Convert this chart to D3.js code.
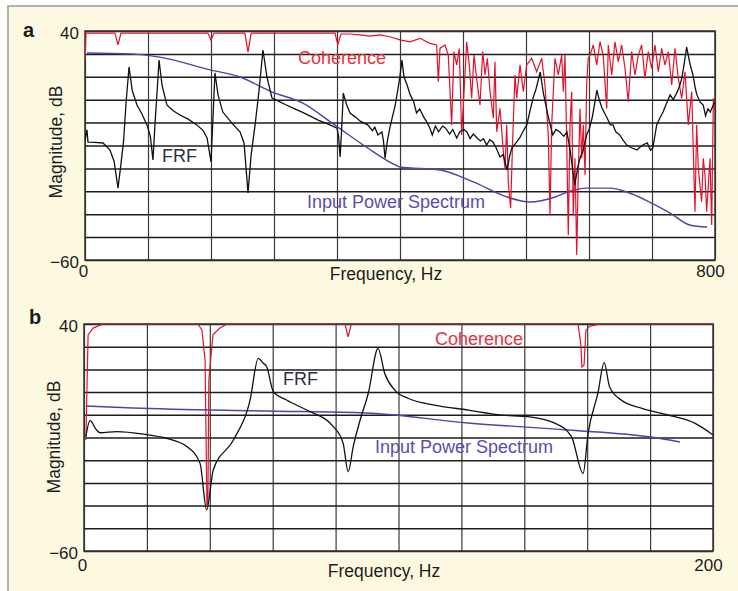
<!DOCTYPE html>
<html>
<head>
<meta charset="utf-8">
<script src="https://cdn.jsdelivr.net/npm/d3@7"></script>
<style>
body { margin: 0; background: #fff; }
svg text { font-family: "Liberation Sans", Arial, sans-serif; }
</style>
</head>
<body>
<div class="chart"></div>
<script>
// values: [frequency Hz, magnitude dB]
const yTicks = [40, -60];
const xTicksA = [0, 800];
const xTicksB = [0, 200];

const frfA = [[0,-7.6],[2.5,-3.2],[3.8,-8.5],[12,-8.6],[22.9,-8.9],[31.7,-12.0],[37,-17],[41.9,-28.6],[45,-20],[49,-8],[52,8],[55.9,24.3],[60,14],[66,7.7],[72,4],[78.7,-1.0],[83,-6],[86.3,-16.3],[89,0],[92,16],[94,27.3],[98,16],[104,7.7],[112,5.2],[120.6,3.3],[131,1.5],[142,-1.0],[150,-3.5],[155,-6.7],[160,-17.2],[162,-2],[165,21.7],[169,12],[175,4.6],[186,0],[197,-4.1],[202,-9],[207,-30.7],[211,-14],[216,-1.0],[221,14],[226,31.7],[231,20],[237.5,10.7],[245,9.5],[255,7.8],[265,6.2],[275.6,4.6],[286,2.8],[296,1.1],[308,-0.6],[320,-2.4],[322,-6],[324,-15.0],[326,-2],[328,12.9],[332,8],[336.5,4.2],[343,2.5],[350,0.5],[359,-1.0],[365,-3.5],[368,-2.0],[372,-5.4],[377,-4.1],[379,-8],[381,-15.5],[384,-8],[387,-2.4],[394,7.7],[399,18],[402.5,27.3],[405,20],[409,16.4],[413,12.1],[417,9.5],[421,4.2],[425,6],[430,2.5],[434,0.3],[438,-2.5],[441,-5.4],[445,-1.5],[449,-4],[454,-1.5],[458,-2.4],[463,-5],[467,-3],[472,-6.7],[476,-4],[481,-3],[485,-4.1],[489,-7],[493,-5],[498,-6.7],[502,-8],[506,-7],[510,-9.8],[514,-7.5],[518,-8.5],[522,-11],[527,-15.0],[531,-14],[536,-20.7],[539,-15],[542,-11.1],[547,-9],[552,-6.7],[556,-4],[561,-1.0],[565,5],[569,10.7],[573,15],[578,22.1],[582,13],[587,4.6],[590,0],[594,-5.4],[598,-3],[603,-4.1],[608,-6],[612,-4.1],[616,-12],[619,-20],[622,-27.2],[626,-19],[629,-15],[632,-12.8],[637,-5.4],[640,-3],[644,2.0],[647,8],[650,14.2],[653,10],[656.5,6.4],[660,4],[663,2.0],[667,-1],[670.5,-1.0],[674,-4],[679,-5.4],[683,-7.5],[688,-9.8],[694,-11],[701,-12.0],[707,-10],[714,-8.9],[718,-12],[721,-11.1],[724,-5],[726,-1.0],[730,2],[734,4.6],[738,8],[743,12.1],[747,10],[752,13.4],[755,16],[758,19.5],[761,26],[764,33.0],[768,26],[772,20.8],[775,15],[777,12.1],[781,9],[785,7.7],[788,3],[791,6],[794,4.6],[797,7],[800,9.0]];

const cohA = [[0,27.3],[1.3,39.1],[38,39.1],[41.9,33.9],[45.7,39.1],[156,39.1],[160,36.1],[163.8,39.1],[203,39.1],[207,30.8],[211,39.1],[317.5,39.1],[321,33.9],[325,38.7],[336.5,38.7],[349,38.3],[362,37.8],[374.6,38.3],[387.3,37.5],[400,36.1],[412.7,35.3],[425.4,36.8],[438,34.6],[446.6,33.9],[448.7,17.9],[450.8,32.4],[457.1,33.9],[461.3,29.5],[465.6,-1.0],[468.5,31],[472,25.2],[475.3,32.4],[478.3,-5.4],[481.3,13.5],[484.7,35.3],[488,25.2],[491,10.6],[494,29.5],[497.3,19.3],[501.6,7.7],[505,31],[508,20.8],[510.9,28.1],[514.3,13.5],[518.5,1.9],[520.6,26.6],[522.8,-4.0],[527,6.2],[531.2,-12.7],[533.3,-20],[535.5,-1.0],[537.5,-25.8],[540.5,-37.4],[543,-8.3],[546,20.8],[548.2,10.6],[552.4,25.2],[556.6,13.5],[560.9,25.2],[567.2,28.1],[573.6,22.2],[580,28.1],[584.1,16.4],[588.3,-5.4],[590.5,-40.4],[592.6,-1.0],[596.8,28.1],[601,20.8],[605.3,29.5],[607.4,13.5],[609.5,29.5],[611.7,-8.3],[613.7,-49.1],[615.9,-1.0],[618,13.5],[620,-40.4],[622.2,-15.6],[624.4,-57.8],[626.4,-22.9],[628.6,6.2],[630.7,-15.6],[632.8,-1.0],[635,-22.9],[637,16.4],[639,28.1],[641.3,29.5],[645.5,33.9],[649.8,25.2],[654,35.3],[658,29.5],[662.5,6.2],[664.5,33.9],[668.8,20.8],[673,35.3],[677.2,26.6],[681.5,33.9],[685.7,23.7],[689.9,9.1],[694.2,31],[698.4,20.8],[702.6,29.5],[706.9,33.9],[711,19.3],[715.3,31],[719.6,23.7],[723.8,33.9],[728,22.2],[732.3,32.4],[736.5,25.2],[740.7,31],[745,16.4],[749.2,32.4],[753.4,19.3],[757.7,10.6],[761.9,22.2],[766.1,-1.0],[770.4,13.5],[774.6,-38.9],[776.7,-1.0],[778.8,-20],[783,-34.5],[785.1,-15.6],[787.3,-22.9],[789.4,-38.9],[791.5,-27.3],[793.7,-15.6],[795.8,-44.7],[797.9,10.6],[800,5.5]];

const powerA = [[2.5,30.4],[57,30.0],[95,28.6],[159,23.0],[197,19.9],[237,13.4],[276,8.6],[317,-1.0],[359,-11.1],[394,-18.5],[400,-19.4],[451,-20.7],[493,-25.9],[536,-32.5],[565,-34.7],[597,-32.5],[616,-29.9],[637,-28.6],[667,-28.6],[688,-30.3],[717,-34.7],[743,-39.5],[768,-44.7],[790,-45.6]];

const frfB = [[0.6,-9.6],[1.9,-2.6],[4.0,-6.7],[5.1,-7.9],[10.4,-7.4],[18.9,-8.5],[26.3,-10.4],[32.7,-14.0],[36.9,-21.4],[39.0,-41.9],[41.1,-24.3],[47.5,-11.1],[52.8,6.5],[55.4,24.9],[57.0,22.7],[58.1,21.2],[60.2,10.2],[64.4,6.5],[70.8,2.1],[79.3,-5.2],[82.4,-12.6],[84.0,-25.1],[85.6,-14.0],[87.8,-2.3],[90.4,9.5],[93.5,29.3],[95.6,18.3],[98.8,10.9],[103.0,7.3],[111.5,4.3],[122.1,2.1],[132.7,-0.1],[141.2,-0.8],[149.7,-3.7],[155.0,-9.6],[158.7,-25.8],[160.3,-8.1],[163.4,9.5],[165.4,23.0],[167.1,12.4],[170.8,6.5],[177.2,2.9],[185.7,-0.1],[194.2,-3.7],[200,-8.9]];

const cohB = [[0.6,-11.1],[1.3,35.2],[2.9,38.2],[6.0,40],[36.2,40],[37.5,37.4],[38.5,24.1],[39.1,-40.6],[39.4,-37.5],[39.7,15.3],[41,35.2],[43.2,38.2],[45.5,40],[83,40],[84,34.3],[85,40],[157.1,40],[158,30.7],[158.3,21.1],[159,22],[159.6,37.4],[160.9,39.1],[164.4,40],[200,40]];

const powerB = [[0.6,3.9],[15.6,3.0],[58.2,1.7],[90,0.8],[122.1,-3.6],[153.9,-6.7],[180.3,-9.8],[189.5,-12.0]];

const red = "#e3122c", purple = "#5440a6", ink = "#1c1c1c";

const svg = d3.select(".chart")
    .append("svg")
    .attr("width", 738)
    .attr("height", 591);

// cream frame
svg.append("rect")
    .attr("x", 8).attr("y", 6)
    .attr("width", 760).attr("height", 620)
    .attr("fill", "#fdf9e1")
    .attr("stroke", "#999")
    .attr("stroke-width", 1.5);

function drawPanel(p) {
    const x = d3.scaleLinear().domain([0, p.xMax]).range([0, p.width]);
    const y = d3.scaleLinear().domain([-60, 40]).range([p.height, 0]);

    const g = svg.append("g")
        .attr("transform", `translate(${p.left},${p.top})`);

    g.append("rect")
        .attr("width", p.width)
        .attr("height", p.height)
        .attr("fill", "#fff");

    // grid
    const vGrid = g.append("g")
        .attr("transform", `translate(0,${p.height})`)
        .call(d3.axisBottom(x).tickValues(d3.range(0, p.xMax + 1, p.xMax / 10)).tickSize(-p.height).tickFormat(""));
    vGrid.selectAll("line").attr("stroke", "#3a3a3a").attr("stroke-width", 1.2);
    vGrid.select(".domain").remove();

    const hGrid = g.append("g")
        .call(d3.axisLeft(y).tickValues(d3.range(-60, 41, 10)).tickSize(-p.width).tickFormat(""));
    hGrid.selectAll("line").attr("stroke", ink).attr("stroke-width", 1.5);
    hGrid.select(".domain").remove();

    g.append("rect")
        .attr("width", p.width)
        .attr("height", p.height)
        .attr("fill", "none")
        .attr("stroke", "#333")
        .attr("stroke-width", 1.5);

    // curves
    g.append("clipPath").attr("id", "clip" + p.label)
        .append("rect").attr("width", p.width).attr("height", p.height);
    const plot = g.append("g").attr("clip-path", `url(#clip${p.label})`);

    const lin = d3.line().x(d => x(d[0])).y(d => y(d[1]));
    const smooth = d3.line().x(d => x(d[0])).y(d => y(d[1])).curve(d3.curveMonotoneX);

    plot.append("path").datum(p.power)
        .attr("d", smooth).attr("fill", "none")
        .attr("stroke", purple).attr("stroke-width", 1.4);
    plot.append("path").datum(p.coh)
        .attr("d", lin).attr("fill", "none")
        .attr("stroke", red).attr("stroke-width", 1.2);
    plot.append("path").datum(p.frf)
        .attr("d", p.frfSmooth ? smooth : lin).attr("fill", "none")
        .attr("stroke", "#111").attr("stroke-width", 1.3);

    // tick labels
    const yAxis = g.append("g")
        .call(d3.axisLeft(y).tickValues(yTicks).tickSize(0).tickPadding(6));
    yAxis.select(".domain").remove();
    yAxis.selectAll("text")
        .attr("font-size", 17).attr("fill", ink)
        .attr("font-family", "Liberation Sans, Arial, sans-serif")
        .attr("dy", "0.42em");

    const xAxis = g.append("g")
        .attr("transform", `translate(0,${p.height})`)
        .call(d3.axisBottom(x).tickValues(p.xTicks).tickSize(0).tickPadding(p.xPad));
    xAxis.select(".domain").remove();
    xAxis.selectAll("text")
        .attr("font-size", 17).attr("fill", ink)
        .attr("font-family", "Liberation Sans, Arial, sans-serif")
        .attr("dx", (d, i) => i === 0 ? -2 : -5);

    // titles
    svg.append("text")
        .attr("x", p.labelPos[0]).attr("y", p.labelPos[1])
        .attr("font-size", 20).attr("font-weight", "bold").attr("fill", ink)
        .text(p.label);
    svg.append("text")
        .attr("transform", `translate(${p.yTitle[0]},${p.yTitle[1]}) rotate(-90)`)
        .attr("text-anchor", "middle")
        .attr("font-size", 17.5).attr("fill", ink)
        .text("Magnitude, dB");
    svg.append("text")
        .attr("x", p.xTitle[0]).attr("y", p.xTitle[1])
        .attr("text-anchor", "middle")
        .attr("font-size", 17.5).attr("fill", ink)
        .text("Frequency, Hz");

    // curve names
    svg.append("text")
        .attr("x", p.cohPos[0]).attr("y", p.cohPos[1])
        .attr("font-size", 18).attr("fill", "#e8323f")
        .text("Coherence");
    svg.append("text")
        .attr("x", p.frfPos[0]).attr("y", p.frfPos[1])
        .attr("font-size", 18).attr("fill", "#26323f")
        .text("FRF");
    svg.append("text")
        .attr("x", p.powPos[0]).attr("y", p.powPos[1])
        .attr("font-size", 18).attr("fill", "#5a4cae")
        .text("Input Power Spectrum");
}

drawPanel({
    label: "a", left: 85, top: 31, width: 630, height: 229, xMax: 800,
    xTicks: xTicksA, xPad: 5, frf: frfA, coh: cohA, power: powerA, frfSmooth: false,
    labelPos: [23, 37], yTitle: [62, 142], xTitle: [386, 280],
    cohPos: [298, 64], frfPos: [162, 162], powPos: [307, 208]
});

drawPanel({
    label: "b", left: 84, top: 324, width: 629, height: 227, xMax: 200,
    xTicks: xTicksB, xPad: 8, frf: frfB, coh: cohB, power: powerB, frfSmooth: true,
    labelPos: [29, 324], yTitle: [60, 437], xTitle: [384, 577],
    cohPos: [435, 345], frfPos: [283, 385], powPos: [375, 453]
});
</script>
</body>
</html>
